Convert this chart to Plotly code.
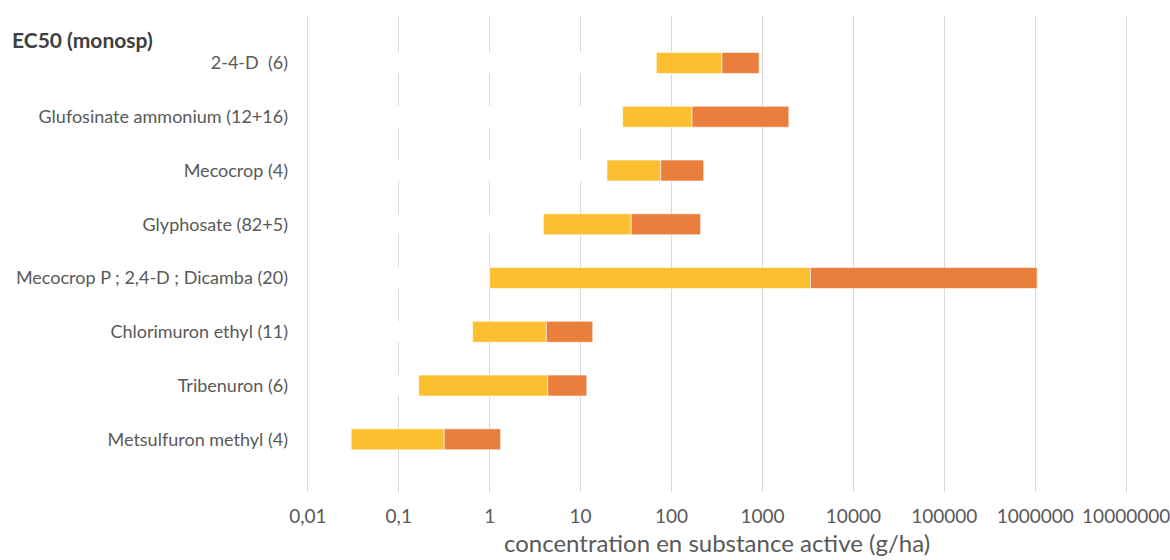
import plotly.graph_objects as go

categories = [
    "2-4-D  (6)",
    "Glufosinate ammonium (12+16)",
    "Mecocrop (4)",
    "Glyphosate (82+5)",
    "Mecocrop P ; 2,4-D ; Dicamba (20)",
    "Chlorimuron ethyl (11)",
    "Tribenuron (6)",
    "Metsulfuron methyl (4)",
]
ec50_min = [68, 29, 19.5, 3.9, 1.0, 0.65, 0.166, 0.030]
ec50_med = [358, 168, 76, 36, 3370, 4.2, 4.35, 0.316]
ec50_max = [920, 1950, 226, 209, 1050000, 13.6, 11.7, 1.32]

tick_vals = [0.01, 0.1, 1, 10, 100, 1000, 10000, 100000, 1000000, 10000000]
tick_text = ["0,01", "0,1", "1", "10", "100", "1000", "10000", "100000", "1000000", "10000000"]

AXIS_MIN = 0.01
FONT = "Lato"
TXT = "#595959"
YELLOW = "#FCBF2F"
ORANGE = "#EA7E3D"
BAR_W = 0.39

base_start = AXIS_MIN * 1.05

fig = go.Figure()
# white spacer bars, as in the original stacked-bar chart (they hide the grid)
fig.add_trace(go.Bar(
    y=categories, x=[m - base_start for m in ec50_min], base=[base_start] * len(categories),
    orientation="h", width=BAR_W, marker=dict(color="white", line=dict(width=0)),
    hoverinfo="skip", showlegend=False,
))
fig.add_trace(go.Bar(
    y=categories, x=[md - mn for mn, md in zip(ec50_min, ec50_med)], base=ec50_min,
    orientation="h", width=BAR_W, marker=dict(color=YELLOW, line=dict(color="white", width=0.6)),
    name="min - médiane", showlegend=False,
))
fig.add_trace(go.Bar(
    y=categories, x=[mx - md for md, mx in zip(ec50_med, ec50_max)], base=ec50_med,
    orientation="h", width=BAR_W, marker=dict(color=ORANGE, line=dict(color="white", width=0.6)),
    name="médiane - max", showlegend=False,
))

fig.update_layout(
    width=1170, height=560,
    margin=dict(l=306, r=42, t=16, b=68, autoexpand=False),
    paper_bgcolor="white", plot_bgcolor="white",
    barmode="overlay",
    font=dict(family=FONT, color=TXT, size=18),
    title=dict(text="<b>EC50 (monosp)</b>", x=12 / 1170, xanchor="left", xref="container",
               y=1 - 41 / 560, yanchor="middle", yref="container",
               font=dict(family=FONT, size=21, color="#404040")),
)
fig.update_xaxes(
    type="log", range=[-2.02, 7.02], automargin=False,
    tickvals=tick_vals, ticktext=tick_text,
    showgrid=True, gridcolor="#D9D9D9", gridwidth=1.2,
    zeroline=False, showline=False, ticks="",
    ticklabelstandoff=11, ticklabeloverflow="allow",
    tickfont=dict(size=19, color=TXT),
    title=dict(text="concentration en substance active (g/ha)", font=dict(size=24, color=TXT), standoff=9),
)
fig.update_yaxes(
    type="category", categoryorder="array", categoryarray=categories,
    range=[7.98, -0.874], automargin=False,
    showgrid=False, zeroline=False, showline=False, ticks="",
    ticklabelstandoff=17,
    tickfont=dict(size=18, color=TXT),
)

fig.write_html(
    "out.html",
    config={"displayModeBar": False},
    post_script=["document.body.style.margin='0';document.body.style.overflow='hidden';"],
)
